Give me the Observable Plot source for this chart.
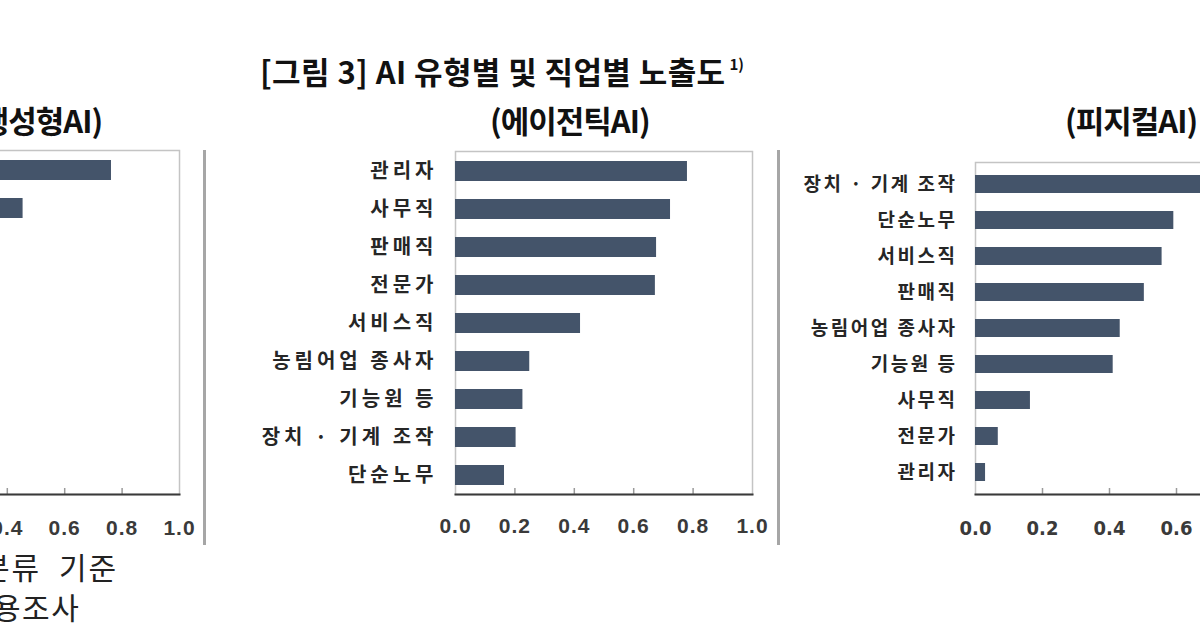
<!DOCTYPE html>
<html><head><meta charset="utf-8">
<script src="https://cdn.jsdelivr.net/npm/d3@7"></script>
<script src="https://cdn.jsdelivr.net/npm/@observablehq/plot@0.6"></script>
<style>
html,body{margin:0;padding:0;background:#fff;overflow:hidden;}
#page{position:relative;width:1200px;height:630px;overflow:hidden;background:#fff;font-family:"Noto Sans CJK KR","Noto Sans",sans-serif;}
.t{position:absolute;white-space:nowrap;color:#111;line-height:1;}
.b{font-weight:700;}
.panel{position:absolute;top:140px;}
.panel svg{max-width:none !important;display:block;}
.sep{position:absolute;width:3px;background:#a6a6a6;top:150px;height:395px;}
#mid g[aria-label="y-axis tick label"] text{letter-spacing:4px;}
#right g[aria-label="y-axis tick label"] text{letter-spacing:2.5px;}
#mid g[aria-label="x-axis tick label"] text,#left g[aria-label="x-axis tick label"] text{letter-spacing:1px;}
</style></head><body><div id="page">
<div class="t b" style="left:260px;top:55px;font-size:31px;letter-spacing:0.4px">[그림 3] AI 유형별 및 직업별 노출도<span style="font-size:15px;position:relative;top:-14px;margin-left:4px;letter-spacing:0">1)</span></div>
<div class="t b" style="left:-30px;top:104px;font-size:31px;letter-spacing:-1px">(생성형AI)</div>
<div class="t b" style="left:490px;top:104px;font-size:31px;letter-spacing:-1px">(에이전틱AI)</div>
<div class="t b" style="left:1065px;top:104px;font-size:31px;letter-spacing:-1px">(피지컬AI)</div>
<div class="t" style="left:-18px;top:551px;font-size:30px;letter-spacing:2px;word-spacing:9px;color:#222">분류 기준</div>
<div class="t" style="left:-7px;top:591px;font-size:30px;letter-spacing:1.5px;color:#222">용조사</div>
<div class="sep" style="left:203px"></div>
<div class="sep" style="left:777px"></div>
<div class="panel" id="left" style="left:-300px;width:500px"></div>
<div class="panel" id="mid" style="left:265px;width:520px"></div>
<div class="panel" id="right" style="left:780px;width:540px"></div>
</div>
<script>
// 생성형AI (only the two top bars are visible in the crop)
const genCats = ["전문가", "사무직", "관리자", "판매직", "서비스직", "기능원 등", "농림어업 종사자", "장치 · 기계 조작", "단순노무"];
const genVals = [0.763, 0.455, 0.33, 0.30, 0.17, 0.10, 0.08, 0.07, 0.05];
// 에이전틱AI
const agentCats = ["관리자", "사무직", "판매직", "전문가", "서비스직", "농림어업 종사자", "기능원 등", "장치 · 기계 조작", "단순노무"];
const agentVals = [0.781, 0.724, 0.677, 0.673, 0.421, 0.250, 0.227, 0.204, 0.165];
// 피지컬AI
const physCats = ["장치 · 기계 조작", "단순노무", "서비스직", "판매직", "농림어업 종사자", "기능원 등", "사무직", "전문가", "관리자"];
const physVals = [0.70, 0.592, 0.557, 0.504, 0.432, 0.411, 0.164, 0.068, 0.030];
const xTicks = [0, 0.2, 0.4, 0.6, 0.8, 1.0];

function panel(el, cats, vals, o) {
  const data = cats.map((c, i) => ({cat: c, val: vals[i]}));
  const H = o.height - o.marginTop - o.marginBottom;
  const marks = [
    Plot.frame({stroke: "#c4c4c4", strokeWidth: 1.5}),
    Plot.barX(data, {y: "cat", x: "val", fill: "#44546A"}),
    Plot.tickX(xTicks.filter(v => v > 0 && v < 1), {x: d => d, stroke: "#9a9a9a", strokeWidth: 1.5, insetTop: H - 6}),
    Plot.frame({anchor: "bottom", stroke: "#3a3a3a", strokeWidth: 2}),
    Plot.axisX(o.ticks, {tickSize: 0, tickPadding: o.xPad, label: null, tickFormat: d3.format(".1f"), fontSize: o.xFont, fontWeight: "bold", fill: "#3a3a3a", fontFamily: o.xFamily})
  ];
  if (o.yAxis) marks.push(Plot.axisY({tickSize: 0, tickPadding: o.yPad, label: null, fontSize: o.yFont, fontWeight: "bold", fill: "#262626", fontFamily: '"Noto Sans CJK KR", sans-serif'}));
  const p = Plot.plot({
    width: o.width, height: o.height,
    marginLeft: o.marginLeft, marginRight: o.marginRight, marginTop: o.marginTop, marginBottom: o.marginBottom,
    x: {domain: [0, 1], axis: null, label: null},
    y: {domain: cats, paddingInner: o.pi, paddingOuter: o.po, axis: null, label: null},
    style: {background: "transparent", overflow: "visible", maxWidth: "none"},
    marks
  });
  document.getElementById(el).appendChild(p);
}

panel("left", genCats, genVals, {width: 500, height: 400, marginLeft: 192, marginRight: 21, marginTop: 10, marginBottom: 46,
  pi: 0.48, po: 0.22, ticks: [0.4, 0.6, 0.8, 1.0], xPad: 26, xFont: 21, xFamily: '"Liberation Sans", Arial, sans-serif', yAxis: false});
panel("mid", agentCats, agentVals, {width: 520, height: 400, marginLeft: 190, marginRight: 33, marginTop: 11, marginBottom: 46,
  pi: 0.48, po: 0.22, ticks: xTicks, xPad: 24, xFont: 21, xFamily: '"Liberation Sans", Arial, sans-serif', yAxis: true, yPad: 18, yFont: 20});
panel("right", physCats, physVals, {width: 540, height: 400, marginLeft: 195, marginRight: 10, marginTop: 22, marginBottom: 46,
  pi: 0.51, po: 0.27, ticks: [0, 0.2, 0.4, 0.6], xPad: 26, xFont: 20, xFamily: '"Liberation Sans Narrow", "DejaVu Sans Condensed", sans-serif', yAxis: true, yPad: 18, yFont: 19});
</script>
</body></html>
